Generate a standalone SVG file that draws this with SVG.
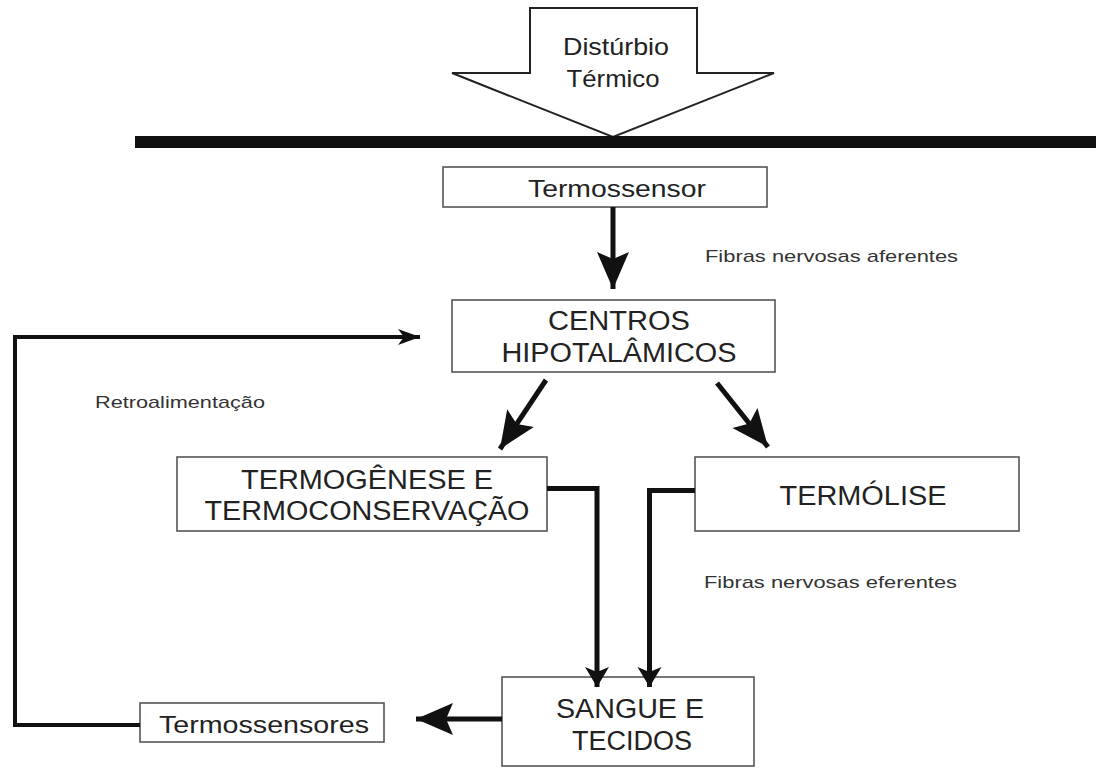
<svg xmlns="http://www.w3.org/2000/svg" width="1096" height="769" viewBox="0 0 1096 769">
<style>
.box{fill:#fff;stroke:#555;stroke-width:1.6}
.t{font-family:"Liberation Sans",Arial,sans-serif;fill:#222}
.big{font-size:27px}
.med{font-size:24px}
.sm{font-size:17px;fill:#333}
.ln{fill:none;stroke:#111;stroke-width:5;stroke-linejoin:miter}
.ln4{fill:none;stroke:#111;stroke-width:4}
</style>
<defs>
<marker id="hL" markerUnits="userSpaceOnUse" viewBox="-40 -20 42 40" markerWidth="42" markerHeight="40" refX="0" refY="0" orient="auto" overflow="visible">
<path d="M0,0 L-37,-16 L-30,0 L-37,16 Z" fill="#111"/>
</marker>
<marker id="hM" markerUnits="userSpaceOnUse" viewBox="-24 -14 26 28" markerWidth="26" markerHeight="28" refX="0" refY="0" orient="auto" overflow="visible">
<path d="M0,0 L-20,-12 L-15,0 L-20,12 Z" fill="#111"/>
</marker>
<marker id="hS" markerUnits="userSpaceOnUse" viewBox="-26 -10 28 20" markerWidth="28" markerHeight="20" refX="0" refY="0" orient="auto" overflow="visible">
<path d="M0,0 L-22,-8 L-16,0 L-22,8 Z" fill="#111"/>
</marker>
</defs>
<rect width="1096" height="769" fill="#fff"/>

<g id="disturbio">
<polygon points="530,8 697,8 697,73 774,73 613,137 452,73 530,73" fill="#fff" stroke="#222" stroke-width="2"/>
<text class="t med" x="616" y="55" text-anchor="middle" textLength="106" lengthAdjust="spacingAndGlyphs">Distúrbio</text>
<text class="t med" x="613" y="87" text-anchor="middle" textLength="93" lengthAdjust="spacingAndGlyphs">Térmico</text>
</g>

<g id="barreira">
<rect x="135" y="136" width="961" height="12" fill="#111"/>
</g>

<g id="termossensor">
<rect class="box" x="443" y="167" width="324" height="40"/>
<text class="t med" x="617" y="197" text-anchor="middle" textLength="178" lengthAdjust="spacingAndGlyphs">Termossensor</text>
</g>

<g id="centros">
<rect class="box" x="452" y="300" width="323" height="72"/>
<text class="t big" x="619" y="330" text-anchor="middle" textLength="142" lengthAdjust="spacingAndGlyphs">CENTROS</text>
<text class="t big" x="619" y="362" text-anchor="middle" textLength="235" lengthAdjust="spacingAndGlyphs">HIPOTALÂMICOS</text>
</g>

<g id="termogenese">
<rect class="box" x="177" y="457" width="370" height="74"/>
<text class="t big" x="367" y="489" text-anchor="middle" textLength="252" lengthAdjust="spacingAndGlyphs">TERMOGÊNESE E</text>
<text class="t big" x="367" y="520" text-anchor="middle" textLength="325" lengthAdjust="spacingAndGlyphs">TERMOCONSERVAÇÃO</text>
</g>

<g id="termolise">
<rect class="box" x="695" y="457" width="324" height="74"/>
<text class="t big" x="863" y="505" text-anchor="middle" textLength="167" lengthAdjust="spacingAndGlyphs">TERMÓLISE</text>
</g>

<g id="sangue">
<rect class="box" x="502" y="677" width="252" height="89"/>
<text class="t big" x="630" y="718" text-anchor="middle" textLength="148" lengthAdjust="spacingAndGlyphs">SANGUE E</text>
<text class="t big" x="632" y="750" text-anchor="middle" textLength="120" lengthAdjust="spacingAndGlyphs">TECIDOS</text>
</g>

<g id="termossensores">
<rect class="box" x="140" y="703" width="244" height="39"/>
<text class="t med" x="264" y="733" text-anchor="middle" textLength="210" lengthAdjust="spacingAndGlyphs">Termossensores</text>
</g>

<g id="labels">
<text class="t sm" x="705" y="262" textLength="253" lengthAdjust="spacingAndGlyphs">Fibras nervosas aferentes</text>
<text class="t sm" x="95" y="408" textLength="170" lengthAdjust="spacingAndGlyphs">Retroalimentação</text>
<text class="t sm" x="704" y="588" textLength="253" lengthAdjust="spacingAndGlyphs">Fibras nervosas eferentes</text>
</g>

<g id="connectors">
<line class="ln" x1="613" y1="207" x2="613" y2="289" marker-end="url(#hL)"/>
<line class="ln" x1="546" y1="380" x2="500" y2="449" marker-end="url(#hL)"/>
<line class="ln" x1="717" y1="383" x2="768" y2="447" marker-end="url(#hL)"/>
<polyline class="ln" points="547,488.5 597,488.5 597,687" marker-end="url(#hM)"/>
<polyline class="ln" points="695,490.5 649.5,490.5 649.5,687" marker-end="url(#hM)"/>
<line class="ln" x1="502" y1="719" x2="416" y2="719" marker-end="url(#hL)"/>
<polyline class="ln4" points="140,725 15,725 15,337 420,337" marker-end="url(#hS)"/>
</g>
</svg>
